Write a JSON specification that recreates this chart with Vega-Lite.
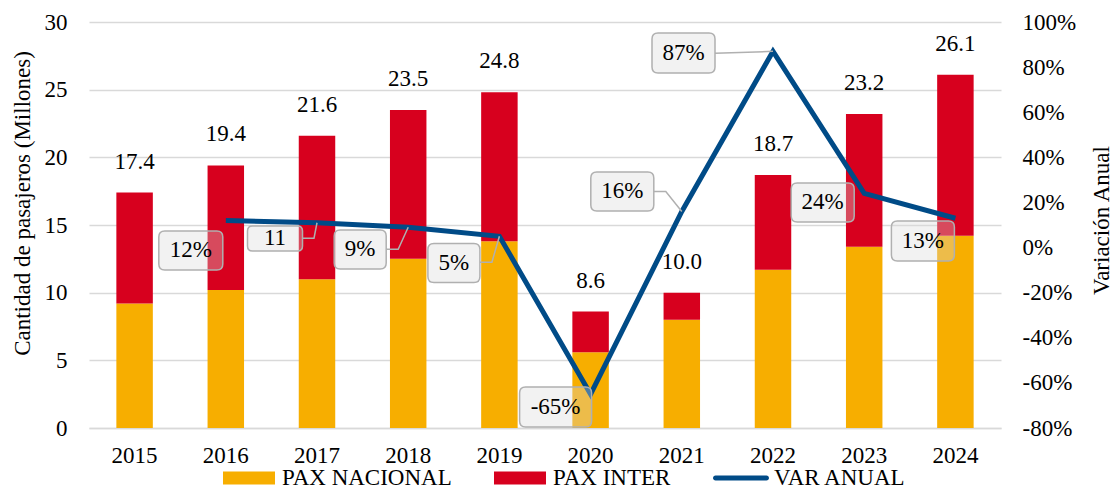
{
  "$schema": "https://vega.github.io/schema/vega-lite/v6.json",
  "width": 912,
  "height": 406,
  "autosize": "none",
  "padding": {"left": 89, "top": 22, "right": 113, "bottom": 60},
  "background": "white",
  "config": {
    "font": "Liberation Serif",
    "view": {"stroke": null},
    "axis": {
      "labelFont": "Liberation Serif", "labelFontSize": 23, "labelColor": "#000",
      "titleFont": "Liberation Serif", "titleFontSize": 23, "titleFontWeight": "normal", "titleColor": "#000",
      "ticks": false, "domain": false, "grid": false
    }
  },
  "datasets": {
    "pax": [
      {"year": 2015, "tipo": "PAX NACIONAL", "millones": 9.2}, {"year": 2015, "tipo": "PAX INTER", "millones": 8.2},
      {"year": 2016, "tipo": "PAX NACIONAL", "millones": 10.2}, {"year": 2016, "tipo": "PAX INTER", "millones": 9.2},
      {"year": 2017, "tipo": "PAX NACIONAL", "millones": 11.0}, {"year": 2017, "tipo": "PAX INTER", "millones": 10.6},
      {"year": 2018, "tipo": "PAX NACIONAL", "millones": 12.5}, {"year": 2018, "tipo": "PAX INTER", "millones": 11.0},
      {"year": 2019, "tipo": "PAX NACIONAL", "millones": 13.8}, {"year": 2019, "tipo": "PAX INTER", "millones": 11.0},
      {"year": 2020, "tipo": "PAX NACIONAL", "millones": 5.6}, {"year": 2020, "tipo": "PAX INTER", "millones": 3.0},
      {"year": 2021, "tipo": "PAX NACIONAL", "millones": 8.0}, {"year": 2021, "tipo": "PAX INTER", "millones": 2.0},
      {"year": 2022, "tipo": "PAX NACIONAL", "millones": 11.7}, {"year": 2022, "tipo": "PAX INTER", "millones": 7.0},
      {"year": 2023, "tipo": "PAX NACIONAL", "millones": 13.4}, {"year": 2023, "tipo": "PAX INTER", "millones": 9.8},
      {"year": 2024, "tipo": "PAX NACIONAL", "millones": 14.2}, {"year": 2024, "tipo": "PAX INTER", "millones": 11.9}
    ],
    "anual": [
      {"year": 2015, "total": 17.4, "var": null, "etiqueta": null},
      {"year": 2016, "total": 19.4, "var": 0.12, "etiqueta": "12%"},
      {"year": 2017, "total": 21.6, "var": 0.11, "etiqueta": "11"},
      {"year": 2018, "total": 23.5, "var": 0.09, "etiqueta": "9%"},
      {"year": 2019, "total": 24.8, "var": 0.05, "etiqueta": "5%"},
      {"year": 2020, "total": 8.6, "var": -0.65, "etiqueta": "-65%"},
      {"year": 2021, "total": 10.0, "var": 0.16, "etiqueta": "16%"},
      {"year": 2022, "total": 18.7, "var": 0.87, "etiqueta": "87%"},
      {"year": 2023, "total": 23.2, "var": 0.24, "etiqueta": "24%"},
      {"year": 2024, "total": 26.1, "var": 0.13, "etiqueta": "13%"}
    ]
  },
  "encoding": {
    "x": {
      "field": "year", "type": "ordinal",
      "scale": {"paddingInner": 0.6, "paddingOuter": 0.3},
      "axis": {"title": null, "labelAngle": 0, "domain": true, "domainColor": "#d9d9d9", "domainWidth": 1.5, "labelPadding": 16}
    }
  },
  "layer": [
    {
      "layer": [
        {
          "data": {"name": "pax"},
          "mark": {"type": "bar"},
          "encoding": {
            "y": {
              "field": "millones", "type": "quantitative", "stack": "zero",
              "scale": {"domain": [0, 30], "nice": false},
              "axis": {
                "values": [0, 5, 10, 15, 20, 25, 30], "title": "Cantidad de pasajeros (Millones)",
                "grid": true, "gridColor": "#d9d9d9", "gridWidth": 1.5, "labelPadding": 22,
                "titleX": -55, "titleY": 181
              }
            },
            "order": {"field": "tipo", "sort": "descending"},
            "color": {
              "field": "tipo", "type": "nominal",
              "scale": {"domain": ["PAX NACIONAL", "PAX INTER", "VAR ANUAL"], "range": ["#F7AE00", "#D7001E", "#004B87"]},
              "legend": {
                "title": null, "orient": "none", "legendX": 134, "legendY": 430, "direction": "horizontal", "columns": 3,
                "padding": 0, "columnPadding": 42, "labelOffset": 7, "labelLimit": 400,
                "labelFont": "Liberation Serif", "labelFontSize": 23, "labelColor": "#000",
                "symbolSize": 2704, "symbolType": "M-1,-0.25L1,-0.25L1,0.25L-1,0.25Z", "symbolStrokeWidth": 0, "symbolOpacity": 1,
                "encode": {
                  "symbols": {
                    "update": {
                      "shape": {"signal": "datum.value === 'VAR ANUAL' ? 'M-0.98,-0.096L0.98,-0.096A0.096,0.096 0 0 1 0.98,0.096L-0.98,0.096A0.096,0.096 0 0 1 -0.98,-0.096Z' : 'M-1,-0.25L1,-0.25L1,0.25L-1,0.25Z'"},
                      "fill": {"scale": "color", "field": "value"},
                      "fillOpacity": {"value": 1},
                      "strokeWidth": {"value": 0}
                    }
                  }
                }
              }
            }
          }
        },
        {
          "data": {"name": "anual"},
          "mark": {"type": "text", "font": "Liberation Serif", "fontSize": 23, "color": "#000", "baseline": "alphabetic", "align": "center", "dy": -24},
          "encoding": {
            "y": {"field": "total", "type": "quantitative", "title": "Cantidad de pasajeros (Millones)"},
            "text": {"field": "total", "type": "quantitative", "format": ".1f"}
          }
        }
      ]
    },
    {
      "data": {"name": "anual"},
      "transform": [{"filter": "datum['var'] != null"}],
      "layer": [
        {
          "mark": {"type": "line", "strokeWidth": 5},
          "encoding": {
            "y": {
              "field": "var", "type": "quantitative",
              "scale": {"domain": [-0.8, 1], "nice": false},
              "axis": {
                "orient": "right", "values": [-0.8, -0.6, -0.4, -0.2, 0, 0.2, 0.4, 0.6, 0.8, 1],
                "labelExpr": "round(datum.value * 100) + '%'", "labelPadding": 21,
                "title": "Variación Anual", "titleAngle": -90, "titleBaseline": "top", "titleX": 89, "titleY": 198
              }
            },
            "color": {"datum": "VAR ANUAL"}
          }
        },
        {
          "mark": {"type": "point", "filled": true, "fill": "#d9d9d9", "fillOpacity": 0.34, "stroke": "#b0b0b0", "strokeWidth": 1.5, "strokeOpacity": 1, "opacity": 1, "size": 4},
          "encoding": {
            "y": {"field": "var", "type": "quantitative", "title": "Variación Anual"},
            "shape": {
              "field": "year", "type": "nominal", "legend": null,
              "scale": {
                "domain": [2016, 2017, 2018, 2019, 2020, 2021, 2022, 2023, 2024],
                "range": [
                  "M-61,10.5L-9,10.5Q-3,10.5 -3,16.5L-3,43.5Q-3,49.5 -9,49.5L-61,49.5Q-67,49.5 -67,43.5L-67,16.5Q-67,10.5 -61,10.5Z",
                  "M-64.5,3.2L-19.5,3.2Q-14.5,3.2 -14.5,8.2L-14.5,23.2Q-14.5,28.2 -19.5,28.2L-64.5,28.2Q-69.5,28.2 -69.5,23.2L-69.5,8.2Q-69.5,3.2 -64.5,3.2ZM-14.5,15.5L-3,15.5L0,0L-3,15.5L-14.5,15.5",
                  "M-68,2.7L-28,2.7Q-22,2.7 -22,8.7L-22,35.7Q-22,41.7 -28,41.7L-68,41.7Q-74,41.7 -74,35.7L-74,8.7Q-74,2.7 -68,2.7ZM-22,22L-10,22L0,0L-10,22L-22,22",
                  "M-65.5,7.2L-25.5,7.2Q-19.5,7.2 -19.5,13.2L-19.5,40.2Q-19.5,46.2 -25.5,46.2L-65.5,46.2Q-71.5,46.2 -71.5,40.2L-71.5,13.2Q-71.5,7.2 -65.5,7.2ZM-19.5,26L-7.5,26L0,0L-7.5,26L-19.5,26",
                  "M-65,-7.2L-5,-7.2Q1,-7.2 1,-1.2L1,26.8Q1,32.8 -5,32.8L-65,32.8Q-71,32.8 -71,26.8L-71,-1.2Q-71,-7.2 -65,-7.2Z",
                  "M-85,-39.5L-34,-39.5Q-28,-39.5 -28,-33.5L-28,-6.5Q-28,-0.5 -34,-0.5L-85,-0.5Q-91,-0.5 -91,-6.5L-91,-33.5Q-91,-39.5 -85,-39.5ZM-28,-20L-16,-20L0,0L-16,-20L-28,-20",
                  "M-115,-18.3L-64,-18.3Q-58,-18.3 -58,-12.3L-58,15.7Q-58,21.7 -64,21.7L-115,21.7Q-121,21.7 -121,15.7L-121,-12.3Q-121,-18.3 -115,-18.3ZM-58,2L0,0L-58,2",
                  "M-67,-10.5L-16,-10.5Q-10,-10.5 -10,-4.5L-10,22.5Q-10,28.5 -16,28.5L-67,28.5Q-73,28.5 -73,22.5L-73,-4.5Q-73,-10.5 -67,-10.5Z",
                  "M-58,2.7L-7,2.7Q-1,2.7 -1,8.7L-1,36.7Q-1,42.7 -7,42.7L-58,42.7Q-64,42.7 -64,36.7L-64,8.7Q-64,2.7 -58,2.7Z"
                ]
              }
            }
          }
        },
        {"transform": [{"filter": "datum.year == 2016"}], "mark": {"type": "text", "fontSize": 23, "font": "Liberation Serif", "color": "#000", "align": "center", "baseline": "middle", "dx": -35, "dy": 30}, "encoding": {"y": {"field": "var", "type": "quantitative", "title": "Variación Anual"}, "text": {"field": "etiqueta"}}},
        {"transform": [{"filter": "datum.year == 2017"}], "mark": {"type": "text", "fontSize": 23, "font": "Liberation Serif", "color": "#000", "align": "center", "baseline": "middle", "dx": -42, "dy": 15.7}, "encoding": {"y": {"field": "var", "type": "quantitative", "title": "Variación Anual"}, "text": {"field": "etiqueta"}}},
        {"transform": [{"filter": "datum.year == 2018"}], "mark": {"type": "text", "fontSize": 23, "font": "Liberation Serif", "color": "#000", "align": "center", "baseline": "middle", "dx": -48, "dy": 22.2}, "encoding": {"y": {"field": "var", "type": "quantitative", "title": "Variación Anual"}, "text": {"field": "etiqueta"}}},
        {"transform": [{"filter": "datum.year == 2019"}], "mark": {"type": "text", "fontSize": 23, "font": "Liberation Serif", "color": "#000", "align": "center", "baseline": "middle", "dx": -45.5, "dy": 26.7}, "encoding": {"y": {"field": "var", "type": "quantitative", "title": "Variación Anual"}, "text": {"field": "etiqueta"}}},
        {"transform": [{"filter": "datum.year == 2020"}], "mark": {"type": "text", "fontSize": 23, "font": "Liberation Serif", "color": "#000", "align": "center", "baseline": "middle", "dx": -35, "dy": 12.8}, "encoding": {"y": {"field": "var", "type": "quantitative", "title": "Variación Anual"}, "text": {"field": "etiqueta"}}},
        {"transform": [{"filter": "datum.year == 2021"}], "mark": {"type": "text", "fontSize": 23, "font": "Liberation Serif", "color": "#000", "align": "center", "baseline": "middle", "dx": -59.5, "dy": -20}, "encoding": {"y": {"field": "var", "type": "quantitative", "title": "Variación Anual"}, "text": {"field": "etiqueta"}}},
        {"transform": [{"filter": "datum.year == 2022"}], "mark": {"type": "text", "fontSize": 23, "font": "Liberation Serif", "color": "#000", "align": "center", "baseline": "middle", "dx": -89.5, "dy": 1.7}, "encoding": {"y": {"field": "var", "type": "quantitative", "title": "Variación Anual"}, "text": {"field": "etiqueta"}}},
        {"transform": [{"filter": "datum.year == 2023"}], "mark": {"type": "text", "fontSize": 23, "font": "Liberation Serif", "color": "#000", "align": "center", "baseline": "middle", "dx": -41.5, "dy": 9}, "encoding": {"y": {"field": "var", "type": "quantitative", "title": "Variación Anual"}, "text": {"field": "etiqueta"}}},
        {"transform": [{"filter": "datum.year == 2024"}], "mark": {"type": "text", "fontSize": 23, "font": "Liberation Serif", "color": "#000", "align": "center", "baseline": "middle", "dx": -32.5, "dy": 22.7}, "encoding": {"y": {"field": "var", "type": "quantitative", "title": "Variación Anual"}, "text": {"field": "etiqueta"}}}
      ]
    }
  ],
  "resolve": {"scale": {"y": "independent"}}
}
